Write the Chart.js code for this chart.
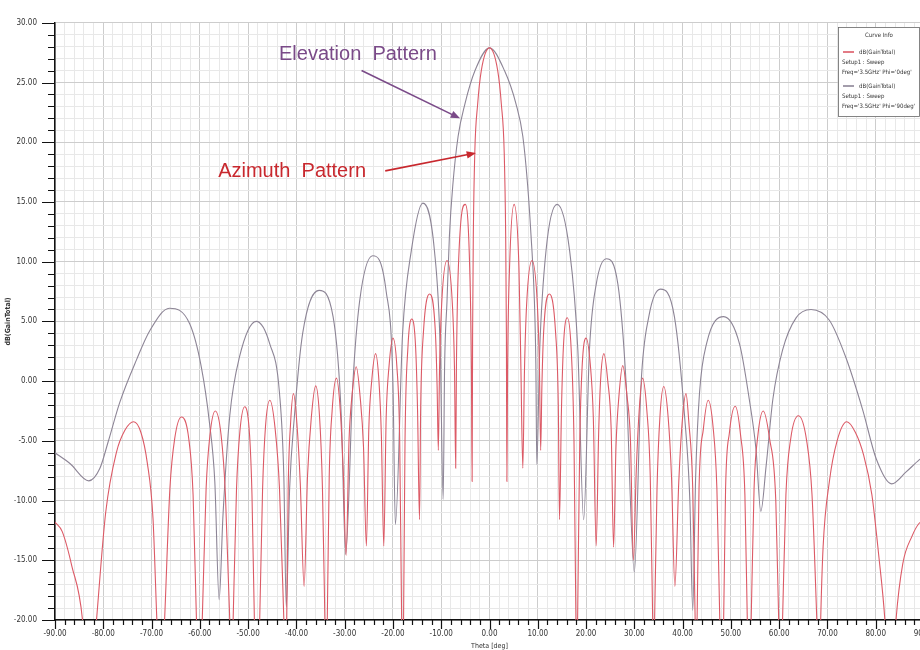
<!DOCTYPE html>
<html>
<head>
<meta charset="utf-8">
<title>dB(GainTotal) - Theta sweep</title>
<script src="https://cdn.jsdelivr.net/npm/chart.js@4.4.1/dist/chart.umd.min.js"></script>
<style>
  html, body { margin: 0; padding: 0; background: #fff; overflow: hidden; }
  #wrap { position: relative; width: 930px; height: 650px; }
</style>
</head>
<body>
<div id="wrap"><canvas id="chart"></canvas></div>
<script>
// Azimuth pattern (Phi = 0deg), red curve
const azTheta = [
  -90, -88.5, -86.5, -84.3, -83.0, -81.4, -79.5, -77.3, -75.5, -73.7, -72.2, -70.9, -69.7,
  -68.9, -68.1, -67.3, -66.2, -65.2, -63.8, -62.3, -61.4, -60.7, -60.1, -59.5,
  -58.7, -57.9, -56.8, -55.6, -54.7, -53.8, -53.45, -53.1, -52.4, -51.7, -50.7,
  -49.7, -49.2, -48.7, -48.15, -47.6, -47.0, -46.4, -45.5, -44.4, -43.5, -42.6,
  -42.3, -42.0, -41.7, -41.2, -40.6, -39.9, -39.2, -38.4, -37.7, -36.9, -36.0,
  -35.2, -34.6, -34.1, -33.9, -33.6, -33.2, -32.6, -31.7, -30.9, -30.3, -29.7,
  -29.1, -28.5, -27.6, -26.8, -26.1, -25.5, -25.0, -24.4, -23.6, -22.9, -22.4,
  -21.9, -21.4, -20.8, -20.0, -19.2, -18.6, -18.2, -18.0, -17.8, -17.5, -16.9,
  -16.1, -15.3, -14.9, -14.5, -14.25, -13.7, -12.4, -11.2, -10.85, -10.6,
  -10.35, -9.9, -8.8, -7.7, -7.25, -7.0, -6.85, -6.45, -5.0, -4.1, -3.75, -3.6,
  -3.5, -3.35, -3.05, -2.45, -1.7, 0, 1.7, 2.45, 3.05, 3.35, 3.5, 3.6,
  3.75, 4.15, 5.1, 6.1, 6.5, 6.9, 7.25, 7.7, 8.8, 9.9, 10.35, 10.6,
  10.85, 11.2, 12.4, 13.7, 14.25, 14.5, 14.9, 15.3, 16.1, 16.9,
  17.5, 17.9, 18.1, 18.25, 18.7, 19.2, 20.0, 20.9, 21.5, 22.1, 22.6,
  23.0, 23.7, 24.5, 25.2, 25.7, 26.2, 26.8, 27.6, 28.5, 29.2, 29.8,
  30.4, 31.0, 31.7, 32.6, 33.3, 33.8, 34.0, 34.2, 34.7, 35.3, 36.1,
  37.0, 37.7, 38.4, 39.2, 39.9, 40.7, 41.3, 42.1, 42.6, 42.8, 43.0,
  43.4, 44.3, 45.3, 46.3, 47.1, 47.7, 48.1, 48.5, 48.9, 49.7, 50.9,
  52.0, 52.9, 53.4, 53.8, 54.2, 54.8, 55.6, 56.7, 58.0, 59.3, 59.9,
  60.3, 60.7, 61.4, 62.4, 64.0, 65.7, 66.8, 67.8, 68.3, 68.6, 69.1,
  70.4, 72.0, 74.0, 75.8, 77.5, 79.2, 80.6, 81.9, 83.0, 84.2, 85.6, 87.5,
  89.0, 90
];
const azGain = [
  -11.8, -12.6, -15.5, -20, -28, -20, -11, -6, -4.1, -3.4, -4.3, -6.8, -11.5,
  -20, -27, -20, -9, -4.8, -3.0, -4.8, -9.5, -20, -27, -20,
  -9, -4.5, -2.5, -4.5, -9.5, -20, -26, -20, -9, -4.2, -2.15,
  -4.5, -9.5, -20, -26, -20, -9, -3.8, -1.6, -4, -9, -20,
  -24, -20, -9, -3.5, -1.05, -3.5, -8.5, -17.2, -8, -3, -0.4,
  -3, -9, -20, -25, -20, -8, -2.5, 0.25, -2.5, -7.5, -14.6,
  -5, -1.3, 1.2, -1.3, -5.5, -13.8, -4, 0, 2.3, 0, -4.5,
  -13.8, -3, 1.3, 3.6, 1.3, -5, -20, -25, -20, -5, 2.8,
  5.2, 2.8, -2.5, -11.6, -2, 4, 7.3, 4, -0.5, -5.8,
  1, 6.5, 10.1, 6.5, 1, -7.3, 1.2, 9.5, 14.8, 9.5, 1.2, -8.4,
  4, 12.2, 19.1, 23.2, 26, 27.9, 26, 23.2, 19.1, 12.2, 4, -8.4,
  1.2, 9.5, 14.8, 9.5, 1.2, -7.3, 1, 6.5, 10.1, 6.5, 1, -5.8,
  -0.5, 4, 7.3, 4, -2, -11.6, -2.5, 2.8, 5.3, 2.8,
  -5, -20, -25, -20, -5, 1.3, 3.6, 1.3, -3, -13.8, -4.5,
  0, 2.3, 0, -4, -13.9, -5.5, -1.3, 1.3, -1.3, -5, -15,
  -7.5, -2.5, 0.25, -2.5, -8, -20, -25, -20, -9, -3, -0.45,
  -3, -8, -17.2, -8.5, -3.5, -1.05, -3.5, -9, -20, -24, -20,
  -9, -4, -1.6, -3.8, -9, -20, -26, -20, -9, -4.3, -2.1,
  -4.5, -9.5, -20, -26, -20, -9, -4.5, -2.5, -4.8, -10, -20,
  -26, -20, -9.5, -4.8, -2.9, -5, -9.5, -20, -26, -20, -13.9,
  -8.4, -5, -3.4, -4.3, -6.2, -9.5, -14.5, -20, -28, -20, -15.3, -13,
  -11.9, -11.7
];

// Elevation pattern (Phi = 90deg), grey curve
const elTheta = [
  -90, -86.9, -83.0, -80.7, -79.0, -76.6, -73.1, -70.4, -66.3, -62.1, -59.7,
  -58.0, -56.9, -56.0, -55.2, -53.8, -51.8, -48.3, -45.5, -43.5, -42.6, -42.1,
  -41.4, -40.4, -38.7, -35.3, -32.4, -30.7, -29.8, -28.3, -26.9, -24.2, -21.4,
  -20.0, -19.5, -18.0, -16.2, -13.8, -11.4, -10.2, -9.6, -9.3, -8.8,
  -8.3, -7.6, -6.5, -5.1, -3.0, 0, 3.1, 5.5, 6.9, 7.9, 8.6, 9.3, 9.6, 9.8,
  10.4, 11.7, 14.0, 16.6, 18.3, 19.5, 20.7, 22.1, 24.2, 26.6, 28.3, 30.0,
  31.4, 33.0, 35.4, 38.3, 40.4, 41.5, 42.1, 42.7, 43.5, 45.0, 48.5, 51.8,
  53.8, 55.2, 56.2, 57.3, 58.7, 60.7, 63.5, 66.6, 70.4, 73.8, 77.3,
  80.1, 83.3, 86.3, 89.0, 90
];
const elGain = [
  -6.0, -6.9, -8.35, -7.3, -5.1, -1.8, 1.8, 4.2, 6.1, 4.8, 1.2,
  -3.5, -8.4, -18.3, -11.2, -2.9, 2.0, 5.0, 3.1, -1.0, -8, -18.9,
  -9, -2.9, 4.0, 7.6, 5.4, -2.9, -14.5, -0.2, 6.7, 10.5, 7.5,
  -0.2, -12, 4.0, 10.9, 14.9, 10.9, 2.6, -9.9, 1.2, 6.7,
  12.2, 16.4, 20.5, 23.2, 26.0, 27.9, 26.0, 23.2, 20.5, 16.4, 12.2, 6.7, 1.5, -7.0,
  2.6, 10.9, 14.8, 10.9, 2.6, -11.6, 2.6, 8.1, 10.25, 8.1, -0.2, -16,
  -0.2, 5.4, 7.7, 5.4, -2.9, -10, -19.2, -8, -1, 3.2, 5.4, 3.1,
  -1.5, -5.7, -10.9, -7.1, -1.5, 2.6, 5.3, 6.0, 5.1, 2.0, -2.4,
  -6.5, -8.6, -7.6, -6.6, -6.3
];

// Axis tick labels
const thetaLabels = [-90, -80, -70, -60, -50, -40, -30, -20, -10, 0, 10, 20, 30, 40, 50, 60, 70, 80, 90];
const gainLabels = [-20, -15, -10, -5, 0, 5, 10, 15, 20, 25, 30];

// Curve info box
const curveColors = ['#dc5a66', '#8d8596'];
const curveNames = ['dB(GainTotal)', 'dB(GainTotal)'];
const curveSetups = ['Setup1 : Sweep', 'Setup1 : Sweep'];
const curveFreqs = ["Freq='3.5GHz' Phi='0deg'", "Freq='3.5GHz' Phi='90deg'"];

// Call-outs: label, text anchor [theta, dB], arrow start, arrow tip
const noteTexts = ['Elevation  Pattern', 'Azimuth  Pattern'];
const noteColors = ['#7a4a88', '#c8282e'];
const noteAnchor = [[-43.6, 26.9], [-56.2, 17.1]];
const noteFrom = [[-26.5, 26.0], [-21.6, 17.6]];
const noteTo = [[-6.1, 22.0], [-2.8, 19.1]];

function toPoints(xs, ys) {
    return xs.map((x, i) => ({ x: x, y: ys[i] }));
}

function drawArrow(ctx, x1, y1, x2, y2, color) {
    const a = Math.atan2(y2 - y1, x2 - x1);
    const h = 10;
    ctx.strokeStyle = color;
    ctx.fillStyle = color;
    ctx.lineWidth = 1.6;
    ctx.beginPath();
    ctx.moveTo(x1, y1);
    ctx.lineTo(x2 - h * 0.8 * Math.cos(a), y2 - h * 0.8 * Math.sin(a));
    ctx.stroke();
    ctx.beginPath();
    ctx.moveTo(x2, y2);
    ctx.lineTo(x2 - h * Math.cos(a - 0.38), y2 - h * Math.sin(a - 0.38));
    ctx.lineTo(x2 - h * Math.cos(a + 0.38), y2 - h * Math.sin(a + 0.38));
    ctx.closePath();
    ctx.fill();
}

// tick marks, call-outs and the curve info box
const decorations = {
    id: 'decorations',
    afterDraw(chart) {
        const ctx = chart.ctx;
        const xs = chart.scales.x, ys = chart.scales.y;
        ctx.save();

        // tick marks (long on labelled ticks, short otherwise)
        ctx.strokeStyle = '#111';
        ctx.lineWidth = 1.2;
        ctx.beginPath();
        xs.ticks.forEach(t => {
            const px = Math.round(xs.getPixelForValue(t.value)) + 0.5;
            const len = thetaLabels.includes(Math.round(t.value)) ? 9 : 5;
            ctx.moveTo(px, xs.top);
            ctx.lineTo(px, xs.top + len);
        });
        ys.ticks.forEach(t => {
            const py = Math.round(ys.getPixelForValue(t.value)) + 0.5;
            const len = gainLabels.includes(Math.round(t.value)) ? 13 : 7;
            ctx.moveTo(ys.right, py);
            ctx.lineTo(ys.right - len, py);
        });
        ctx.stroke();

        // call-outs
        ctx.font = '20px "Liberation Sans", Arial, sans-serif';
        ctx.textBaseline = 'alphabetic';
        ctx.textAlign = 'left';
        noteTexts.forEach((txt, i) => {
            ctx.fillStyle = noteColors[i];
            ctx.fillText(txt, xs.getPixelForValue(noteAnchor[i][0]), ys.getPixelForValue(noteAnchor[i][1]));
            drawArrow(ctx,
                xs.getPixelForValue(noteFrom[i][0]), ys.getPixelForValue(noteFrom[i][1]),
                xs.getPixelForValue(noteTo[i][0]), ys.getPixelForValue(noteTo[i][1]),
                noteColors[i]);
        });

        // curve info box
        const bx = 838, by = 27, bw = 82, bh = 90;
        ctx.fillStyle = '#fff';
        ctx.fillRect(bx, by, bw, bh);
        ctx.strokeStyle = '#666';
        ctx.lineWidth = 0.8;
        ctx.strokeRect(bx + 0.5, by + 0.5, bw - 1, bh - 1);
        ctx.fillStyle = '#333';
        ctx.font = '6px "Liberation Sans Narrow", "DejaVu Sans Condensed", sans-serif';
        ctx.textBaseline = 'middle';
        ctx.textAlign = 'center';
        ctx.fillText('Curve Info', bx + bw / 2, by + 8);
        ctx.textAlign = 'left';
        curveNames.forEach((name, i) => {
            const top = by + 25 + i * 34;
            ctx.strokeStyle = curveColors[i];
            ctx.lineWidth = 1.6;
            ctx.beginPath();
            ctx.moveTo(bx + 5, top);
            ctx.lineTo(bx + 16, top);
            ctx.stroke();
            ctx.fillStyle = '#333';
            ctx.fillText(name, bx + 21, top);
            ctx.fillText(curveSetups[i], bx + 4, top + 10.5);
            ctx.fillText(curveFreqs[i], bx + 4, top + 20.5);
        });
        ctx.restore();
    }
};

const tickFont = { family: '"Liberation Sans Narrow", "DejaVu Sans Condensed", sans-serif', size: 8 };

new Chart(document.getElementById('chart'), {
    type: 'line',
    data: {
        datasets: [
            {
                label: curveFreqs[0],
                data: toPoints(azTheta, azGain),
                borderColor: curveColors[0],
                borderWidth: 1.1,
                pointRadius: 0,
                cubicInterpolationMode: 'monotone'
            },
            {
                label: curveFreqs[1],
                data: toPoints(elTheta, elGain),
                borderColor: curveColors[1],
                borderWidth: 1.1,
                pointRadius: 0,
                cubicInterpolationMode: 'monotone'
            }
        ]
    },
    options: {
        responsive: true,
        maintainAspectRatio: false,
        animation: false,
        layout: { padding: { left: 0, right: 6, top: 15, bottom: 0 } },
        plugins: {
            legend: { display: false },
            tooltip: { enabled: false }
        },
        scales: {
            x: {
                type: 'linear',
                min: -90,
                max: 90,
                ticks: {
                    stepSize: 2,
                    autoSkip: false,
                    maxRotation: 0,
                    padding: 9,
                    color: '#333',
                    font: tickFont,
                    callback: v => thetaLabels.includes(Math.round(v)) && Math.abs(v - Math.round(v)) < 1e-6 ? v.toFixed(2) : ''
                },
                grid: {
                    drawTicks: false,
                    color: c => (c.tick && thetaLabels.includes(Math.round(c.tick.value))) ? '#cdcdcd' : '#e8e8e8'
                },
                border: { color: '#111', width: 1.5 },
                title: {
                    display: true,
                    text: 'Theta [deg]',
                    color: '#333',
                    font: { family: '"Liberation Sans Narrow", "DejaVu Sans Condensed", sans-serif', size: 7 },
                    padding: { top: 0, bottom: 0 }
                },
                afterFit: s => {
                    s.height = 30;
                    // let the last label run off the edge, like the original
                    s.paddingLeft = 0;
                    s.paddingRight = 0;
                }
            },
            y: {
                min: -20,
                max: 30,
                ticks: {
                    stepSize: 1,
                    autoSkip: false,
                    padding: 18,
                    color: '#333',
                    font: tickFont,
                    callback: v => gainLabels.includes(Math.round(v)) && Math.abs(v - Math.round(v)) < 1e-6 ? v.toFixed(2) : ''
                },
                grid: {
                    drawTicks: false,
                    color: c => (c.tick && gainLabels.includes(Math.round(c.tick.value))) ? '#cdcdcd' : '#e8e8e8'
                },
                border: { color: '#111', width: 1.5 },
                title: {
                    display: true,
                    text: 'dB(GainTotal)',
                    color: '#333',
                    font: { family: '"DejaVu Sans Condensed", sans-serif', size: 7, weight: 'bold' },
                    padding: { top: 4, bottom: 0 }
                },
                afterFit: s => { s.width = 55; }
            }
        }
    },
    plugins: [decorations]
});
</script>
</body>
</html>
